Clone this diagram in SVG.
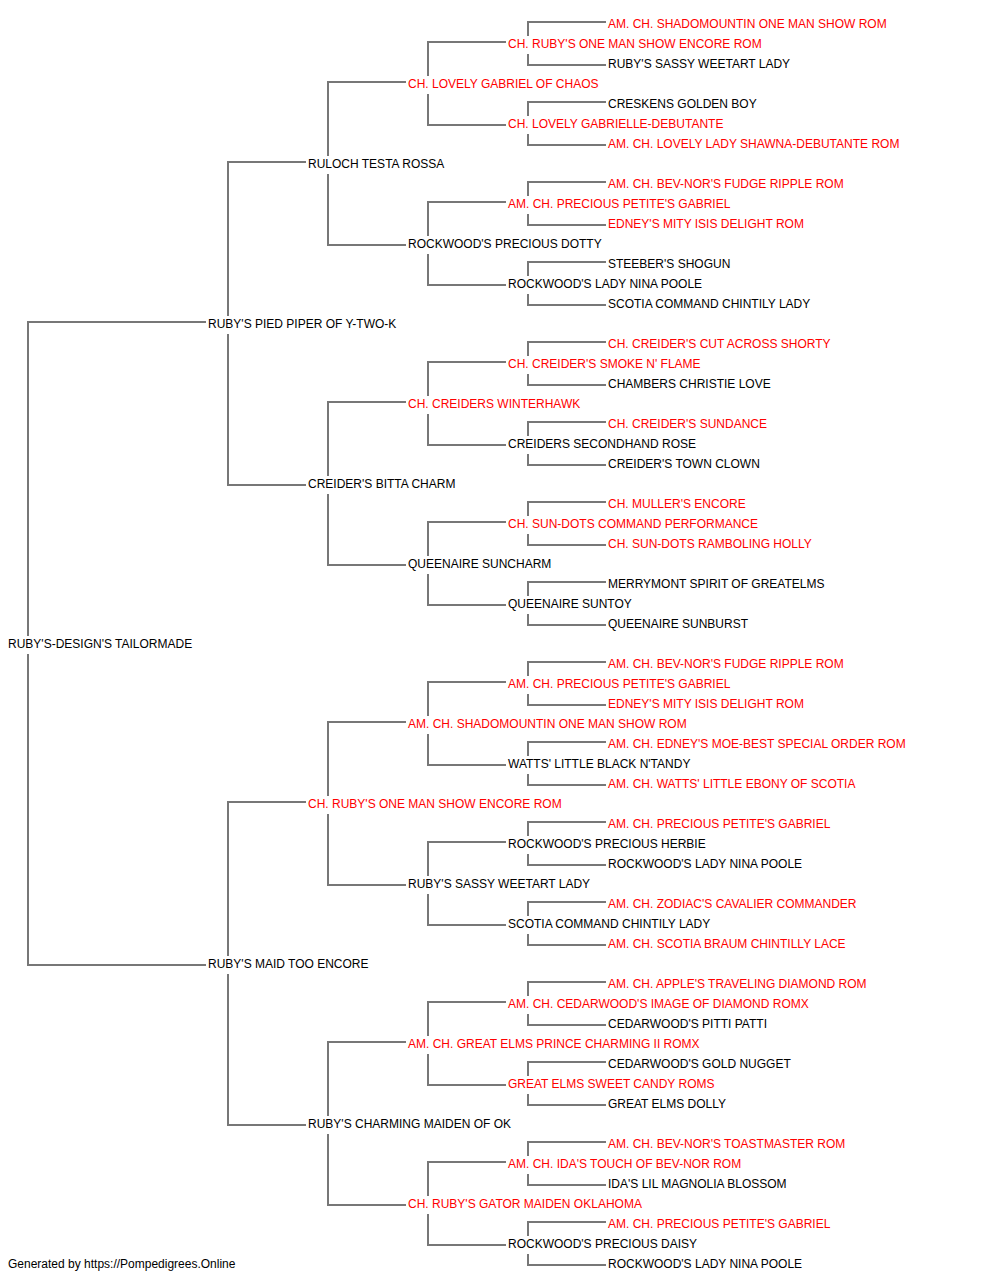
<svg xmlns="http://www.w3.org/2000/svg" width="1000" height="1280" viewBox="0 0 1000 1280">
<style>
text{font-family:"Liberation Sans",Arial,sans-serif;font-size:12px}
.b{fill:#000}
.r{fill:#ff0000}
.c path{fill:none;stroke:#777;stroke-width:2}
</style>
<rect width="1000" height="1280" fill="#fff"/>
<g class="c" id="connectors">
<path d="M206 322H28V636M28 654V965H206"/>
<path d="M306 162H228V316M228 334V485H306"/>
<path d="M306 802H228V956M228 974V1125H306"/>
<path d="M406 82H328V156M328 174V245H406"/>
<path d="M406 402H328V476M328 494V565H406"/>
<path d="M406 722H328V796M328 814V885H406"/>
<path d="M406 1042H328V1116M328 1134V1205H406"/>
<path d="M506 42H428V76M428 94V125H506"/>
<path d="M506 202H428V236M428 254V285H506"/>
<path d="M506 362H428V396M428 414V445H506"/>
<path d="M506 522H428V556M428 574V605H506"/>
<path d="M506 682H428V716M428 734V765H506"/>
<path d="M506 842H428V876M428 894V925H506"/>
<path d="M506 1002H428V1036M428 1054V1085H506"/>
<path d="M506 1162H428V1196M428 1214V1245H506"/>
<path d="M606 22H528V36M528 54V65H606"/>
<path d="M606 102H528V116M528 134V145H606"/>
<path d="M606 182H528V196M528 214V225H606"/>
<path d="M606 262H528V276M528 294V305H606"/>
<path d="M606 342H528V356M528 374V385H606"/>
<path d="M606 422H528V436M528 454V465H606"/>
<path d="M606 502H528V516M528 534V545H606"/>
<path d="M606 582H528V596M528 614V625H606"/>
<path d="M606 662H528V676M528 694V705H606"/>
<path d="M606 742H528V756M528 774V785H606"/>
<path d="M606 822H528V836M528 854V865H606"/>
<path d="M606 902H528V916M528 934V945H606"/>
<path d="M606 982H528V996M528 1014V1025H606"/>
<path d="M606 1062H528V1076M528 1094V1105H606"/>
<path d="M606 1142H528V1156M528 1174V1185H606"/>
<path d="M606 1222H528V1236M528 1254V1265H606"/>
</g>
<g id="n0"><text class="b" x="8" y="648">RUBY'S-DESIGN'S TAILORMADE</text></g>
<g id="n1"><text class="b" x="208" y="328">RUBY'S PIED PIPER OF Y-TWO-K</text></g>
<g id="n2"><text class="b" x="208" y="968">RUBY'S MAID TOO ENCORE</text></g>
<g id="n3"><text class="b" x="308" y="168">RULOCH TESTA ROSSA</text></g>
<g id="n4"><text class="b" x="308" y="488">CREIDER'S BITTA CHARM</text></g>
<g id="n5"><text class="r" x="308" y="808">CH. RUBY'S ONE MAN SHOW ENCORE ROM</text></g>
<g id="n6"><text class="b" x="308" y="1128">RUBY'S CHARMING MAIDEN OF OK</text></g>
<g id="n7"><text class="r" x="408" y="88">CH. LOVELY GABRIEL OF CHAOS</text></g>
<g id="n8"><text class="b" x="408" y="248">ROCKWOOD'S PRECIOUS DOTTY</text></g>
<g id="n9"><text class="r" x="408" y="408">CH. CREIDERS WINTERHAWK</text></g>
<g id="n10"><text class="b" x="408" y="568">QUEENAIRE SUNCHARM</text></g>
<g id="n11"><text class="r" x="408" y="728">AM. CH. SHADOMOUNTIN ONE MAN SHOW ROM</text></g>
<g id="n12"><text class="b" x="408" y="888">RUBY'S SASSY WEETART LADY</text></g>
<g id="n13"><text class="r" x="408" y="1048">AM. CH. GREAT ELMS PRINCE CHARMING II ROMX</text></g>
<g id="n14"><text class="r" x="408" y="1208">CH. RUBY'S GATOR MAIDEN OKLAHOMA</text></g>
<g id="n15"><text class="r" x="508" y="48">CH. RUBY'S ONE MAN SHOW ENCORE ROM</text></g>
<g id="n16"><text class="r" x="508" y="128">CH. LOVELY GABRIELLE-DEBUTANTE</text></g>
<g id="n17"><text class="r" x="508" y="208">AM. CH. PRECIOUS PETITE'S GABRIEL</text></g>
<g id="n18"><text class="b" x="508" y="288">ROCKWOOD'S LADY NINA POOLE</text></g>
<g id="n19"><text class="r" x="508" y="368">CH. CREIDER'S SMOKE N' FLAME</text></g>
<g id="n20"><text class="b" x="508" y="448">CREIDERS SECONDHAND ROSE</text></g>
<g id="n21"><text class="r" x="508" y="528">CH. SUN-DOTS COMMAND PERFORMANCE</text></g>
<g id="n22"><text class="b" x="508" y="608">QUEENAIRE SUNTOY</text></g>
<g id="n23"><text class="r" x="508" y="688">AM. CH. PRECIOUS PETITE'S GABRIEL</text></g>
<g id="n24"><text class="b" x="508" y="768">WATTS' LITTLE BLACK N'TANDY</text></g>
<g id="n25"><text class="b" x="508" y="848">ROCKWOOD'S PRECIOUS HERBIE</text></g>
<g id="n26"><text class="b" x="508" y="928">SCOTIA COMMAND CHINTILY LADY</text></g>
<g id="n27"><text class="r" x="508" y="1008">AM. CH. CEDARWOOD'S IMAGE OF DIAMOND ROMX</text></g>
<g id="n28"><text class="r" x="508" y="1088">GREAT ELMS SWEET CANDY ROMS</text></g>
<g id="n29"><text class="r" x="508" y="1168">AM. CH. IDA'S TOUCH OF BEV-NOR ROM</text></g>
<g id="n30"><text class="b" x="508" y="1248">ROCKWOOD'S PRECIOUS DAISY</text></g>
<g id="n31"><text class="r" x="608" y="28">AM. CH. SHADOMOUNTIN ONE MAN SHOW ROM</text></g>
<g id="n32"><text class="b" x="608" y="68">RUBY'S SASSY WEETART LADY</text></g>
<g id="n33"><text class="b" x="608" y="108">CRESKENS GOLDEN BOY</text></g>
<g id="n34"><text class="r" x="608" y="148">AM. CH. LOVELY LADY SHAWNA-DEBUTANTE ROM</text></g>
<g id="n35"><text class="r" x="608" y="188">AM. CH. BEV-NOR'S FUDGE RIPPLE ROM</text></g>
<g id="n36"><text class="r" x="608" y="228">EDNEY'S MITY ISIS DELIGHT ROM</text></g>
<g id="n37"><text class="b" x="608" y="268">STEEBER'S SHOGUN</text></g>
<g id="n38"><text class="b" x="608" y="308">SCOTIA COMMAND CHINTILY LADY</text></g>
<g id="n39"><text class="r" x="608" y="348">CH. CREIDER'S CUT ACROSS SHORTY</text></g>
<g id="n40"><text class="b" x="608" y="388">CHAMBERS CHRISTIE LOVE</text></g>
<g id="n41"><text class="r" x="608" y="428">CH. CREIDER'S SUNDANCE</text></g>
<g id="n42"><text class="b" x="608" y="468">CREIDER'S TOWN CLOWN</text></g>
<g id="n43"><text class="r" x="608" y="508">CH. MULLER'S ENCORE</text></g>
<g id="n44"><text class="r" x="608" y="548">CH. SUN-DOTS RAMBOLING HOLLY</text></g>
<g id="n45"><text class="b" x="608" y="588">MERRYMONT SPIRIT OF GREATELMS</text></g>
<g id="n46"><text class="b" x="608" y="628">QUEENAIRE SUNBURST</text></g>
<g id="n47"><text class="r" x="608" y="668">AM. CH. BEV-NOR'S FUDGE RIPPLE ROM</text></g>
<g id="n48"><text class="r" x="608" y="708">EDNEY'S MITY ISIS DELIGHT ROM</text></g>
<g id="n49"><text class="r" x="608" y="748">AM. CH. EDNEY'S MOE-BEST SPECIAL ORDER ROM</text></g>
<g id="n50"><text class="r" x="608" y="788">AM. CH. WATTS' LITTLE EBONY OF SCOTIA</text></g>
<g id="n51"><text class="r" x="608" y="828">AM. CH. PRECIOUS PETITE'S GABRIEL</text></g>
<g id="n52"><text class="b" x="608" y="868">ROCKWOOD'S LADY NINA POOLE</text></g>
<g id="n53"><text class="r" x="608" y="908">AM. CH. ZODIAC'S CAVALIER COMMANDER</text></g>
<g id="n54"><text class="r" x="608" y="948">AM. CH. SCOTIA BRAUM CHINTILLY LACE</text></g>
<g id="n55"><text class="r" x="608" y="988">AM. CH. APPLE'S TRAVELING DIAMOND ROM</text></g>
<g id="n56"><text class="b" x="608" y="1028">CEDARWOOD'S PITTI PATTI</text></g>
<g id="n57"><text class="b" x="608" y="1068">CEDARWOOD'S GOLD NUGGET</text></g>
<g id="n58"><text class="b" x="608" y="1108">GREAT ELMS DOLLY</text></g>
<g id="n59"><text class="r" x="608" y="1148">AM. CH. BEV-NOR'S TOASTMASTER ROM</text></g>
<g id="n60"><text class="b" x="608" y="1188">IDA'S LIL MAGNOLIA BLOSSOM</text></g>
<g id="n61"><text class="r" x="608" y="1228">AM. CH. PRECIOUS PETITE'S GABRIEL</text></g>
<g id="n62"><text class="b" x="608" y="1268">ROCKWOOD'S LADY NINA POOLE</text></g>
<g id="footer"><text class="b" x="8" y="1268">Generated by https://Pompedigrees.Online</text></g>
</svg>
